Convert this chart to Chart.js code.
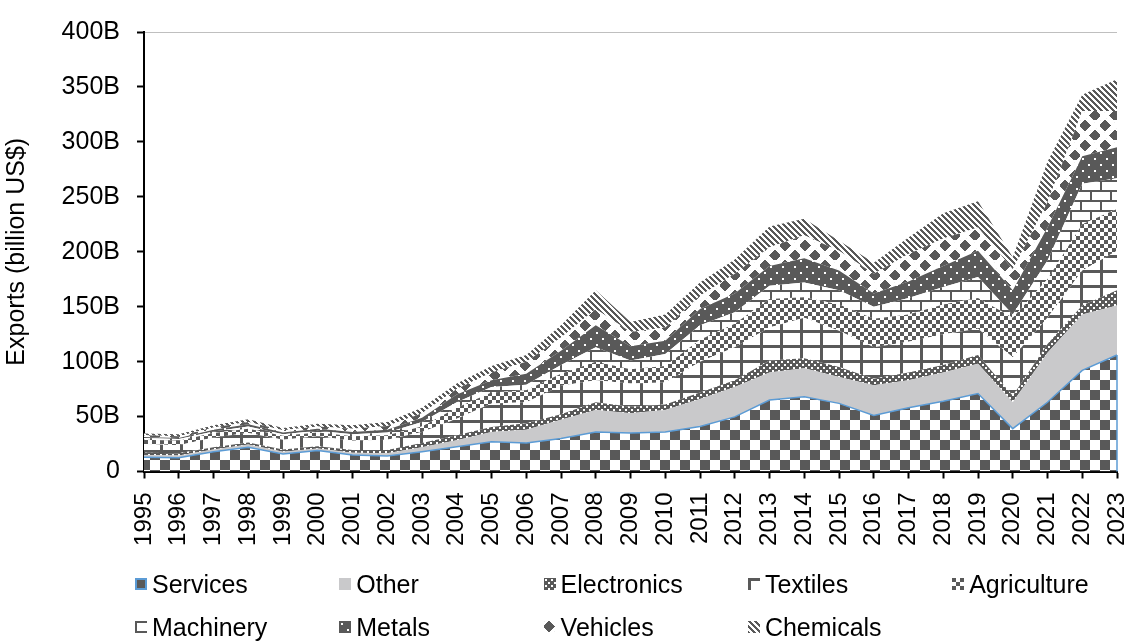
<!DOCTYPE html>
<html lang="en">
	<head>
		<meta charset="UTF-8" />
		<title>Exports by sector</title>
		<script src="https://cdn.jsdelivr.net/npm/chart.js"></script>
		<style>
			html,
			body {
				margin: 0;
				padding: 0;
				background: #fff;
			}
			#wrap {
				position: relative;
				width: 1129px;
				height: 641px;
			}
			#legend .item {
				position: absolute;
				display: flex;
				align-items: center;
				height: 30px;
				font-family: "Liberation Sans", Arial, sans-serif;
				font-size: 25px;
				color: #000;
				white-space: nowrap;
			}
			#legend canvas {
				width: 12px;
				height: 12px;
				margin-right: 5px;
			}
		</style>
	</head>
	<body>
		<div id="wrap">
			<canvas id="myChart" width="1129" height="641"></canvas>
			<div id="legend"></div>
		</div>

		<script>
			var years = [
				"1995", "1996", "1997", "1998", "1999", "2000", "2001", "2002", "2003", "2004",
				"2005", "2006", "2007", "2008", "2009", "2010", "2011", "2012", "2013", "2014",
				"2015", "2016", "2017", "2018", "2019", "2020", "2021", "2022", "2023",
			];

			// billions of US$, one value per year, stacked bottom to top
			var services = [13, 12.5, 18, 22, 16, 19, 15, 14, 18, 22.5, 27, 26, 30, 36, 35, 36, 41, 49.7, 65, 68, 62, 51, 58, 64, 71, 39, 63, 92, 106];
			var other = [2, 2, 2, 2.5, 2, 2, 2, 2.5, 4, 6, 9, 12, 17, 20, 18, 20, 25, 27.3, 25, 26, 24, 27.5, 25, 26, 27, 24, 45, 51, 45];
			var electronics = [2, 2, 2, 2, 2, 2, 2.5, 3, 4, 4.5, 4.5, 6, 5, 7, 6, 5, 6, 6, 11, 9, 9, 6, 7, 7, 8, 6, 8, 8, 14];
			var textiles = [8, 7.5, 9, 8.5, 9, 9, 8.5, 9.5, 10, 15, 21.5, 19, 26, 20, 21, 20, 28, 30, 30, 37, 33, 28.5, 28, 28, 24, 35, 24, 32, 36];
			var agriculture = [4, 4, 4, 4, 3.5, 3.5, 4, 4, 5, 10, 10, 11, 11, 17, 13, 15, 20, 21.5, 26, 18.5, 24, 26, 25, 27, 28, 36, 35, 42, 38];
			var machinery = [1.5, 1.5, 1.5, 2, 1.5, 1.5, 2, 2.5, 4, 5, 5, 5, 8, 13, 8, 11, 13, 10.5, 12, 13.5, 13, 11, 15, 16, 19, 3, 17, 37, 28];
			var metals = [1, 1, 1.5, 2, 1.5, 2, 2, 2.5, 4, 7, 6, 10, 13, 20, 13, 12, 15, 17, 18, 22, 18, 12, 15, 19, 24, 22, 30, 25, 28];
			var vehicles = [1.5, 1.5, 2, 2, 2, 2, 3, 3.5, 4, 5, 7, 11, 12, 15, 13, 12, 12, 18, 17, 21, 18, 18, 25, 25, 21, 19, 23, 41, 33];
			var chemicals = [1.5, 2, 2, 2.5, 2, 2.5, 3, 3.5, 5, 5, 6, 6, 11, 17, 9, 12, 12, 13, 19, 15, 9, 10, 15, 23, 24, 11, 37, 15, 29];

			var seriesNames = ["Services", "Other", "Electronics", "Textiles", "Agriculture", "Machinery", "Metals", "Vehicles", "Chemicals"];
			var seriesData = [services, other, electronics, textiles, agriculture, machinery, metals, vehicles, chemicals];

			var DARK = "#595959";
			var FONT = '"Liberation Sans", Arial, sans-serif';

			// small bitmap tiles used as area fills
			function tile(w, h, draw) {
				var c = document.createElement("canvas");
				c.width = w;
				c.height = h;
				var g = c.getContext("2d");
				g.fillStyle = "#fff";
				g.fillRect(0, 0, w, h);
				g.fillStyle = DARK;
				draw(g, w, h);
				return c;
			}

			function diamond(g, cx, cy, r) {
				for (var dy = -r; dy <= r; dy++) {
					var half = r - Math.abs(dy);
					g.fillRect(cx - half - 1, cy + dy, half * 2 + 2, 1);
				}
			}

			var tiles = [
				// services: big checkerboard
				tile(20, 20, function (g) {
					g.fillRect(0, 0, 10, 10);
					g.fillRect(10, 10, 10, 10);
				}),
				// other: plain light grey
				tile(4, 4, function (g) {
					g.fillStyle = "#c9c9cb";
					g.fillRect(0, 0, 4, 4);
				}),
				// electronics: dark with small holes
				tile(6, 6, function (g) {
					g.fillRect(0, 0, 6, 6);
					g.fillStyle = "#fff";
					g.fillRect(1, 1, 2, 2);
					g.fillRect(4, 4, 2, 2);
				}),
				// textiles: large grid
				tile(20, 15, function (g) {
					g.fillRect(0, 0, 20, 3);
					g.fillRect(0, 0, 3, 15);
				}),
				// agriculture: small checkerboard
				tile(8, 8, function (g) {
					g.fillRect(0, 0, 4, 4);
					g.fillRect(4, 4, 4, 4);
				}),
				// machinery: bricks
				tile(20, 20, function (g) {
					g.fillRect(0, 0, 20, 2);
					g.fillRect(0, 10, 20, 2);
					g.fillRect(0, 0, 2, 10);
					g.fillRect(10, 10, 2, 10);
				}),
				// metals: dark with sparse white dots
				tile(12, 12, function (g) {
					g.fillRect(0, 0, 12, 12);
					g.fillStyle = "#fff";
					g.fillRect(2, 2, 2, 2);
					g.fillRect(8, 8, 2, 2);
				}),
				// vehicles: diamonds
				tile(20, 20, function (g) {
					g.fillStyle = "#f0f0f0";
					for (var i = 0; i < 20; i += 2) g.fillRect(i, (i * 3) % 20, 1, 1);
					g.fillStyle = DARK;
					diamond(g, 5, 5, 5);
					diamond(g, 15, 15, 5);
				}),
				// chemicals: downward diagonal stripes
				tile(6, 6, function (g) {
					for (var y = 0; y < 6; y++) {
						g.fillRect(y, y, 3, 1);
						if (y > 3) g.fillRect(y - 6, y, 3, 1);
					}
				}),
			];

			var ctx = document.getElementById("myChart").getContext("2d");
			var fills = tiles.map(function (t) {
				return ctx.createPattern(t, "repeat");
			});

			var datasets = seriesData.map(function (values, i) {
				return {
					label: seriesNames[i],
					data: values,
					fill: i === 0 ? "origin" : "-1",
					backgroundColor: fills[i],
					borderColor: i === 0 ? "#5b9bd5" : "rgba(0,0,0,0)",
					borderWidth: i === 0 ? 1.5 : 0,
					pointRadius: 0,
					tension: 0,
				};
			});

			// closes the services outline down the right edge, like the spreadsheet area border
			var edgeLine = {
				id: "edgeLine",
				afterDatasetsDraw: function (chart) {
					var meta = chart.getDatasetMeta(0);
					var last = meta.data[meta.data.length - 1];
					var y0 = chart.scales.y.getPixelForValue(0);
					var c = chart.ctx;
					c.save();
					c.strokeStyle = "#5b9bd5";
					c.lineWidth = 1.5;
					c.beginPath();
					c.moveTo(last.x, last.y);
					c.lineTo(last.x, y0);
					c.stroke();
					c.restore();
				},
			};

			Chart.defaults.font.family = FONT;
			Chart.defaults.font.size = 24;
			Chart.defaults.color = "#000";

			var myChart = new Chart(ctx, {
				type: "line",
				data: { labels: years, datasets: datasets },
				plugins: [edgeLine],
				options: {
					responsive: false,
					animation: false,
					layout: { padding: { top: 30, right: 12, bottom: 95, left: 0 } },
					plugins: {
						legend: { display: false },
						tooltip: { enabled: false },
					},
					scales: {
						x: {
							z: 1,
							offset: false,
							afterFit: function (scale) {
								scale.height = 74.5;
								scale.paddingLeft = 0;
								scale.paddingRight = 0;
							},
							grid: {
								drawOnChartArea: false,
								tickLength: 7,
								tickWidth: 2,
								tickColor: "#000",
							},
							border: { color: "#000", width: 2 },
							ticks: {
								autoSkip: false,
								minRotation: 90,
								maxRotation: 90,
								padding: 14,
								font: { size: 24 },
							},
						},
						y: {
							z: 1,
							stacked: true,
							min: 0,
							max: 400,
							afterFit: function (scale) {
								scale.width = 144;
							},
							grid: {
								color: function (c) {
									return c.tick && c.tick.value === 400 ? "#bfbfbf" : "rgba(0,0,0,0)";
								},
								lineWidth: 1,
								tickLength: 7,
								tickWidth: 2,
								tickColor: "#000",
							},
							border: { color: "#000", width: 2 },
							ticks: {
								stepSize: 50,
								padding: 17,
								font: { size: 25 },
								callback: function (value) {
									return value === 0 ? "0" : value + "B";
								},
							},
							title: {
								display: true,
								text: "Exports (billion US$)",
								font: { size: 25 },
								padding: { top: 2, bottom: 4 },
							},
						},
					},
				},
			});

			// legend in a fixed five-column grid under the plot
			var legend = document.getElementById("legend");
			seriesNames.forEach(function (name, i) {
				var item = document.createElement("div");
				item.className = "item";
				item.style.left = 135 + (i % 5) * 204.3 + "px";
				item.style.top = 569 + Math.floor(i / 5) * 43 + "px";
				var sw = document.createElement("canvas");
				sw.width = 12;
				sw.height = 12;
				var g = sw.getContext("2d");
				g.fillStyle = g.createPattern(tiles[i], "repeat");
				g.fillRect(0, 0, 12, 12);
				if (i === 0) {
					g.strokeStyle = "#5b9bd5";
					g.lineWidth = 2;
					g.strokeRect(1, 1, 10, 10);
				}
				item.appendChild(sw);
				var label = document.createElement("span");
				label.textContent = name;
				item.appendChild(label);
				legend.appendChild(item);
			});
		</script>
	</body>
</html>
